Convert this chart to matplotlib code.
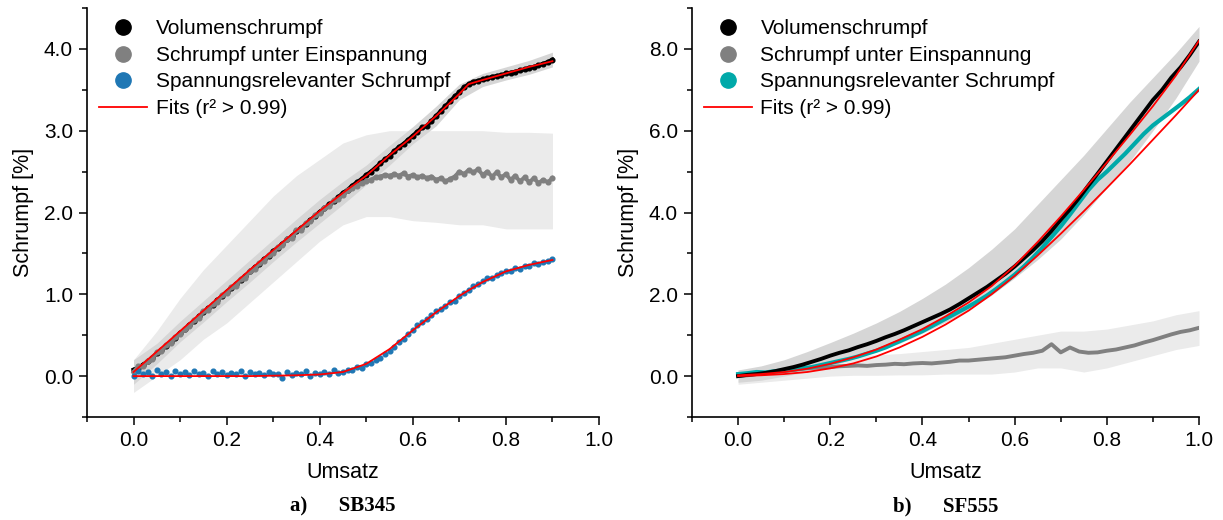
import numpy as np
import matplotlib
matplotlib.use("Agg")
import matplotlib.pyplot as plt
from matplotlib.lines import Line2D

plt.rcParams['font.family'] = ['Liberation Sans', 'DejaVu Sans']

# ---------------- data: a) SB345 ----------------
u_a = [round(i * 0.01, 2) for i in range(91)]
vol_a = [0.08, 0.10, 0.14, 0.18, 0.22, 0.28, 0.32, 0.37, 0.42, 0.47,
         0.53, 0.57, 0.63, 0.67, 0.73, 0.78, 0.83, 0.87, 0.93, 0.98,
         1.03, 1.08, 1.12, 1.18, 1.22, 1.28, 1.33, 1.37, 1.43, 1.47,
         1.53, 1.57, 1.62, 1.67, 1.71, 1.77, 1.81, 1.86, 1.91, 1.96,
         2.01, 2.05, 2.10, 2.14, 2.19, 2.24, 2.28, 2.33, 2.37, 2.41,
         2.46, 2.50, 2.55, 2.60, 2.65, 2.69, 2.75, 2.80, 2.84, 2.89,
         2.94, 2.99, 3.04, 3.06, 3.12, 3.18, 3.24, 3.30, 3.36, 3.42,
         3.47, 3.53, 3.57, 3.60, 3.61, 3.63, 3.64, 3.66, 3.67, 3.68,
         3.70, 3.71, 3.72, 3.74, 3.75, 3.77, 3.78, 3.80, 3.82, 3.84, 3.87]
ein_a = [0.05, 0.12, 0.12, 0.19, 0.21, 0.29, 0.31, 0.38, 0.40, 0.48,
         0.51, 0.58, 0.61, 0.68, 0.71, 0.79, 0.81, 0.88, 0.91, 0.99,
         1.01, 1.09, 1.10, 1.19, 1.20, 1.29, 1.31, 1.38, 1.41, 1.48,
         1.51, 1.58, 1.60, 1.68, 1.69, 1.78, 1.79, 1.87, 1.89, 1.97,
         1.99, 2.06, 2.08, 2.15, 2.17, 2.22, 2.27, 2.30, 2.33, 2.36,
         2.38, 2.40, 2.43, 2.44, 2.46, 2.45, 2.47, 2.45, 2.48, 2.44,
         2.46, 2.43, 2.45, 2.42, 2.44, 2.40, 2.42, 2.38, 2.41, 2.44,
         2.50, 2.47, 2.52, 2.49, 2.53, 2.46, 2.50, 2.44, 2.49, 2.43,
         2.47, 2.40, 2.45, 2.38, 2.43, 2.37, 2.42, 2.36, 2.40, 2.37, 2.42]
span_a = [0.00, 0.06, 0.02, 0.05, 0.00, 0.07, 0.03, 0.05, 0.00, 0.06,
          0.02, 0.05, 0.01, 0.06, 0.02, 0.04, 0.00, 0.06, 0.03, 0.05,
          0.01, 0.04, 0.02, 0.06, 0.00, 0.05, 0.03, 0.04, 0.01, 0.05,
          0.02, 0.03, -0.02, 0.05, 0.01, 0.04, 0.02, 0.06, 0.00, 0.04,
          0.03, 0.05, 0.02, 0.07, 0.04, 0.05, 0.08, 0.07, 0.11, 0.10,
          0.15, 0.16, 0.20, 0.22, 0.27, 0.31, 0.36, 0.42, 0.45, 0.52,
          0.56, 0.62, 0.66, 0.70, 0.75, 0.79, 0.82, 0.86, 0.90, 0.92,
          0.98, 1.02, 1.05, 1.10, 1.12, 1.16, 1.20, 1.20, 1.24, 1.26,
          1.28, 1.29, 1.32, 1.31, 1.35, 1.34, 1.38, 1.37, 1.40, 1.41, 1.43]
u_a_fit = [0.0, 0.05, 0.1, 0.15, 0.2, 0.25, 0.3, 0.35, 0.4, 0.45, 0.5,
           0.55, 0.6, 0.65, 0.7, 0.72, 0.75, 0.8, 0.85, 0.9]
fit_a_vol = [0.05, 0.30, 0.55, 0.80, 1.05, 1.30, 1.54, 1.78, 2.02, 2.24, 2.45,
             2.70, 2.93, 3.18, 3.45, 3.57, 3.62, 3.70, 3.78, 3.85]
fit_a_span = [0.00, 0.00, 0.00, 0.00, 0.00, 0.00, 0.005, 0.01, 0.02, 0.05, 0.15,
              0.33, 0.56, 0.78, 0.98, 1.05, 1.15, 1.28, 1.36, 1.42]
u_a_band = [0.0, 0.05, 0.1, 0.15, 0.2, 0.25, 0.3, 0.35, 0.4, 0.45,
            0.5, 0.55, 0.6, 0.65, 0.7, 0.75, 0.8, 0.85, 0.9]
vol_a_hi = [0.20, 0.40, 0.67, 0.92, 1.17, 1.42, 1.67, 1.92, 2.16, 2.38,
            2.58, 2.82, 3.05, 3.30, 3.57, 3.70, 3.78, 3.86, 3.96]
vol_a_lo = [-0.10, 0.15, 0.42, 0.66, 0.91, 1.15, 1.40, 1.64, 1.87, 2.10,
            2.34, 2.58, 2.84, 3.06, 3.38, 3.54, 3.62, 3.69, 3.78]
ein_a_hi = [0.20, 0.55, 0.95, 1.30, 1.60, 1.90, 2.20, 2.45, 2.65, 2.85,
            2.95, 3.00, 3.00, 3.00, 3.00, 3.00, 2.98, 2.98, 2.97]
ein_a_lo = [-0.20, 0.00, 0.20, 0.45, 0.65, 0.90, 1.15, 1.40, 1.65, 1.85,
            1.95, 1.95, 1.90, 1.88, 1.85, 1.85, 1.80, 1.80, 1.80]

# ---------------- data: b) SF555 ----------------
u_b = [round(i * 0.02, 2) for i in range(51)]
vol_b = [0.00, 0.03, 0.05, 0.08, 0.12, 0.17, 0.22, 0.28, 0.35, 0.42,
         0.50, 0.57, 0.63, 0.71, 0.78, 0.86, 0.95, 1.03, 1.12, 1.22,
         1.32, 1.42, 1.52, 1.63, 1.76, 1.90, 2.04, 2.18, 2.34, 2.50,
         2.68, 2.88, 3.08, 3.30, 3.55, 3.82, 4.08, 4.36, 4.66, 4.95,
         5.25, 5.55, 5.85, 6.15, 6.45, 6.75, 7.00, 7.30, 7.55, 7.85, 8.18]
span_b = [0.05, 0.07, 0.10, 0.09, 0.12, 0.14, 0.16, 0.19, 0.22, 0.27,
          0.32, 0.37, 0.42, 0.48, 0.55, 0.62, 0.70, 0.80, 0.90, 1.00,
          1.10, 1.22, 1.34, 1.46, 1.58, 1.70, 1.83, 1.97, 2.13, 2.30,
          2.48, 2.68, 2.90, 3.14, 3.40, 3.66, 3.95, 4.25, 4.55, 4.80,
          5.00, 5.22, 5.44, 5.68, 5.92, 6.13, 6.30, 6.47, 6.64, 6.82, 7.02]
ein_b = [0.00, 0.02, 0.05, 0.07, 0.10, 0.12, 0.15, 0.18, 0.20, 0.21,
         0.22, 0.24, 0.25, 0.26, 0.25, 0.27, 0.28, 0.30, 0.29, 0.31,
         0.32, 0.31, 0.33, 0.35, 0.38, 0.38, 0.40, 0.42, 0.44, 0.46,
         0.50, 0.54, 0.57, 0.62, 0.78, 0.58, 0.70, 0.60, 0.57, 0.58,
         0.62, 0.65, 0.70, 0.75, 0.82, 0.88, 0.95, 1.02, 1.08, 1.12, 1.18]
u_b_fit = [0.0, 0.05, 0.1, 0.15, 0.2, 0.25, 0.3, 0.35, 0.4, 0.45, 0.5,
           0.55, 0.6, 0.65, 0.7, 0.75, 0.8, 0.85, 0.9, 0.95, 1.0]
fit_b_vol = [0.02, 0.05, 0.10, 0.18, 0.30, 0.46, 0.65, 0.89, 1.15, 1.46, 1.80,
             2.20, 2.70, 3.28, 3.90, 4.55, 5.22, 5.90, 6.60, 7.35, 8.20]
fit_b_span = [0.00, 0.02, 0.05, 0.10, 0.19, 0.31, 0.48, 0.70, 0.96, 1.26, 1.60,
              2.00, 2.45, 2.95, 3.48, 4.03, 4.60, 5.18, 5.78, 6.38, 7.00]
vol_b_hi = [0.15, 0.25, 0.40, 0.60, 0.82, 1.05, 1.30, 1.58, 1.90, 2.25, 2.65,
            3.10, 3.60, 4.20, 4.80, 5.40, 6.05, 6.70, 7.30, 7.90, 8.55]
vol_b_lo = [-0.15, -0.10, 0.00, 0.10, 0.25, 0.42, 0.60, 0.80, 1.05, 1.32, 1.62,
            1.98, 2.40, 2.85, 3.35, 3.95, 4.60, 5.25, 6.00, 6.80, 7.70]
ein_b_hi = [0.15, 0.20, 0.30, 0.40, 0.45, 0.50, 0.52, 0.55, 0.60, 0.65, 0.70,
            0.80, 0.90, 1.00, 1.10, 1.10, 1.15, 1.25, 1.35, 1.50, 1.60]
ein_b_lo = [-0.20, -0.15, -0.10, -0.05, 0.00, 0.02, 0.02, 0.03, 0.03, 0.05, 0.05,
            0.05, 0.10, 0.20, 0.20, 0.10, 0.20, 0.35, 0.50, 0.65, 0.75]

legend_labels = ["Volumenschrumpf", "Schrumpf unter Einspannung",
                 "Spannungsrelevanter Schrumpf", "Fits (r² > 0.99)"]

# ---------------- figure ----------------
W, H = 1223, 520
fig = plt.figure(figsize=(W / 100, H / 100), dpi=100)
ax1 = fig.add_axes([87 / W, 1 - 417 / H, 512 / W, 409 / H])
ax2 = fig.add_axes([692 / W, 1 - 417 / H, 507 / W, 409 / H])

BLUE = '#1f77b4'
TEAL = '#00a9a9'
GREY = '#808080'
BAND_D = '#d6d6d6'
BAND_L = '#ebebeb'

# a)
ax1.fill_between(u_a_band, ein_a_lo, ein_a_hi, color=BAND_L, lw=0, zorder=1)
ax1.fill_between(u_a_band, vol_a_lo, vol_a_hi, color=BAND_D, lw=0, zorder=1.5)
ax1.plot(u_a, vol_a, color='black', lw=2.8, marker='o', ms=3.4, zorder=2)
ax1.plot(u_a, ein_a, color=GREY, lw=2.8, marker='o', ms=3.4, zorder=2.5)
ax1.plot(u_a, span_a, color=BLUE, ls='None', marker='o', ms=3.4, zorder=3)
ax1.plot(u_a_fit, fit_a_vol, color='red', lw=1.3, zorder=4)
ax1.plot(u_a_fit, fit_a_span, color='red', lw=1.3, zorder=4)
ax1.set_ylim(-0.5, 4.5)
ax1.set_yticks([0, 1, 2, 3, 4])
ax1.set_yticks([-0.5, 0.5, 1.5, 2.5, 3.5, 4.5], minor=True)

# b)
ax2.fill_between(u_b_fit, ein_b_lo, ein_b_hi, color=BAND_L, lw=0, zorder=1)
ax2.fill_between(u_b_fit, vol_b_lo, vol_b_hi, color=BAND_D, lw=0, zorder=1.5)
ax2.plot(u_b, ein_b, color=GREY, lw=2.8, zorder=2)
ax2.plot(u_b, span_b, color=TEAL, lw=3.0, zorder=2.5)
ax2.plot(u_b, vol_b, color='black', lw=2.8, zorder=3)
ax2.plot(u_b_fit, fit_b_vol, color='red', lw=1.3, zorder=4)
ax2.plot(u_b_fit, fit_b_span, color='red', lw=1.3, zorder=4)
ax2.set_ylim(-1, 9)
ax2.set_yticks([0, 2, 4, 6, 8])
ax2.set_yticks([-1, 1, 3, 5, 7, 9], minor=True)

for ax, col, cap in [(ax1, BLUE, "a)      SB345"), (ax2, TEAL, "b)      SF555")]:
    ax.set_xlim(-0.1, 1.0)
    ax.set_xticks([0.0, 0.2, 0.4, 0.6, 0.8, 1.0])
    ax.set_xticks([-0.1, 0.1, 0.3, 0.5, 0.7, 0.9], minor=True)
    ax.xaxis.set_major_formatter(matplotlib.ticker.FormatStrFormatter('%.1f'))
    ax.yaxis.set_major_formatter(matplotlib.ticker.FormatStrFormatter('%.1f'))
    for s in ['top', 'right']:
        ax.spines[s].set_visible(False)
    for s in ['left', 'bottom']:
        ax.spines[s].set_linewidth(1.2)
    ax.tick_params(which='major', direction='out', length=6, width=1.1,
                   labelsize=15, pad=4)
    ax.tick_params(which='minor', direction='out', length=3.5, width=1.1)
    ax.set_xlabel("Umsatz", fontsize=15.5, labelpad=9)
    ax.set_ylabel("Schrumpf [%]", fontsize=15.5, labelpad=7)
    handles = [Line2D([], [], ls='None', marker='o', ms=11, color='black'),
               Line2D([], [], ls='None', marker='o', ms=11, color=GREY),
               Line2D([], [], ls='None', marker='o', ms=11, color=col),
               Line2D([], [], color='red', lw=1.3)]
    ax.legend(handles, legend_labels, loc='upper left',
              bbox_to_anchor=(0.024, 0.972), frameon=False, fontsize=15,
              handlelength=2.3, handletextpad=0.4, labelspacing=0.36,
              borderpad=0, borderaxespad=0)
    bb = ax.get_position()
    fig.text(bb.x0 + bb.width / 2, 1 - 506 / H, cap, ha='center', va='center',
             fontsize=15, family=['Liberation Serif'], weight='bold')

fig.savefig("out.png", dpi=100)
